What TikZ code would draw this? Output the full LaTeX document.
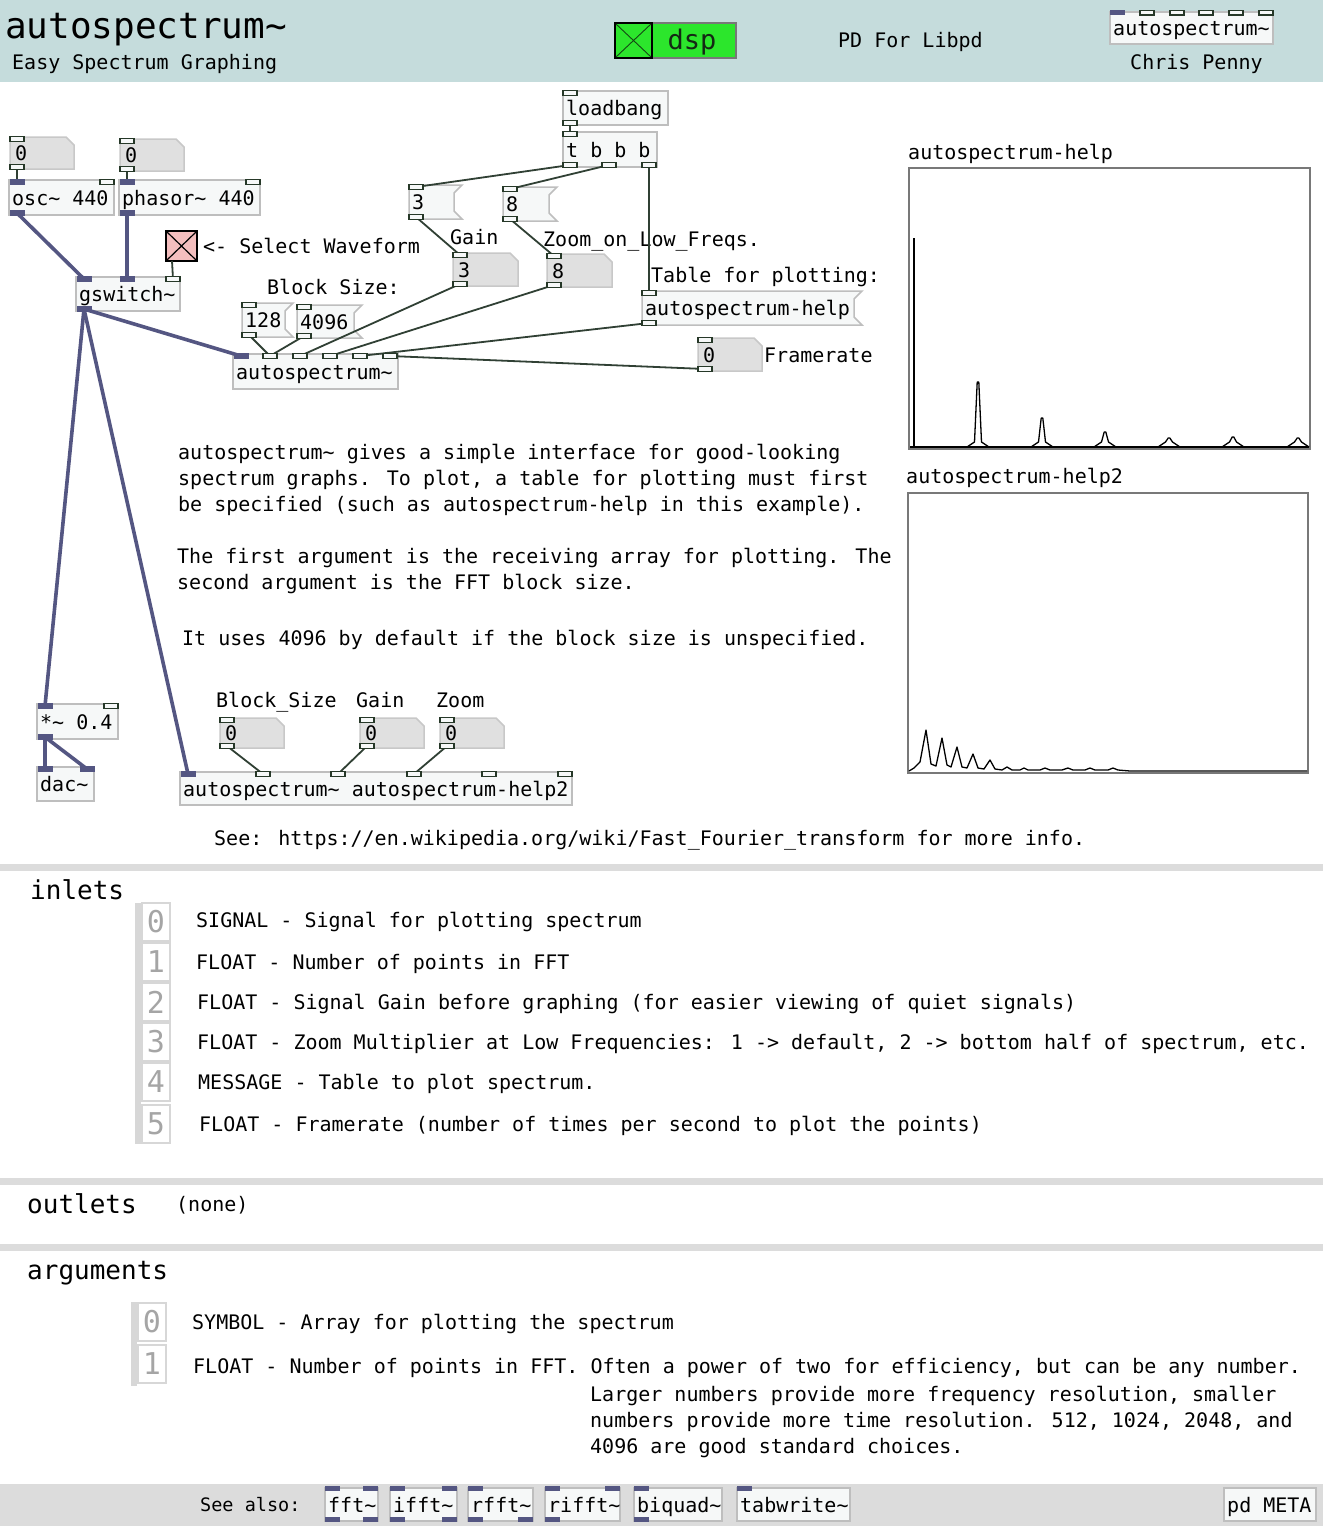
\documentclass[tikz,border=0pt]{standalone}
\usepackage{fontspec}
\newfontfamily\pdf{DejaVu Sans Mono}
\definecolor{hdr}{RGB}{197,220,220}
\definecolor{boxfill}{RGB}{246,248,248}
\definecolor{boxline}{RGB}{190,190,190}
\definecolor{numfill}{RGB}{224,224,224}
\definecolor{numline}{RGB}{200,200,200}
\definecolor{portline}{RGB}{38,56,40}
\definecolor{sigcol}{RGB}{84,86,130}
\definecolor{ctlwire}{RGB}{48,64,52}
\definecolor{sepgray}{RGB}{220,220,220}
\definecolor{pinkx}{RGB}{244,190,190}
\definecolor{dspgreen}{RGB}{44,230,44}
\definecolor{idxgray}{RGB}{165,165,165}
\definecolor{idxline}{RGB}{215,215,215}
\definecolor{graphline}{RGB}{120,120,120}
\newcommand\tld{\textasciitilde}
\tikzset{
 lbl/.style={inner sep=0pt, anchor=west, font={\pdf\fontsize{20}{24}\selectfont}, text height=17pt, text depth=2pt},
 sml/.style={inner sep=0pt, anchor=west, font={\pdf\fontsize{18.5}{22}\selectfont}, text height=16pt, text depth=2pt},
 head/.style={inner sep=0pt, anchor=west, font={\pdf\fontsize{26}{30}\selectfont}, text height=22pt, text depth=3pt},
 bigt/.style={inner sep=0pt, anchor=west, font={\pdf\fontsize{36}{40}\selectfont}, text height=27pt, text depth=7pt},
 idxf/.style={inner sep=0pt, anchor=center, text=idxgray, font={\pdf\fontsize{30}{34}\selectfont}},
 dspf/.style={inner sep=0pt, anchor=center, text={rgb,255:red,20;green,40;blue,20}, font={\pdf\fontsize{27}{30}\selectfont}},
 objst/.style={draw=boxline, fill=boxfill, line width=1.5pt},
 numst/.style={draw=numline, fill=numfill, line width=1.5pt},
 msgst/.style={draw=boxline, fill=boxfill, line width=1.5pt},
 ctlw/.style={draw=ctlwire, line width=1.8pt},
 sigw/.style={draw=sigcol, line width=3.6pt},
 cportst/.style={draw=portline, fill=boxfill, line width=1.3pt},
 specst/.style={draw=black, line width=1.3pt, line join=round},
 graphst/.style={draw=graphline, fill=white, line width=2pt},
}
\newcommand\objbox[6]{\draw[objst] (#2,#3) rectangle (#4,#5); \node[lbl] (#1) at ({#2+3},{(#3+#5)/2}) {#6};}
\newcommand\numbox[6]{\draw[numst] (#2,#3) -- ({#4-8},#3) -- (#4,{#3+8}) -- (#4,#5) -- (#2,#5) -- cycle; \node[lbl] (#1) at ({#2+5},{(#3+#5)/2}) {#6};}
\newcommand\msgbox[6]{\draw[msgst] (#2,#3) -- (#4,#3) -- ({#4-8},{#3+8}) -- ({#4-8},{#5-8}) -- (#4,#5) -- (#2,#5) -- cycle; \node[lbl] (#1) at ({#2+3},{(#3+#5)/2}) {#6};}
\newcommand\cport[1]{\draw[cportst] (#1) ++(-7,-2.5) rectangle ++(14,5);}
\newcommand\sport[1]{\fill[sigcol] (#1) ++(-7.5,-3) rectangle ++(15,6);}
\newcommand\sq[2]{\fill[sigcol] (#1,#2) rectangle ++(15,5);}
\newcommand\idxcell[4]{\draw[draw=idxline, fill=white, line width=1.5pt] (#2,{#3-19}) rectangle ({#2+28},{#3+19}); \node[idxf] (#1) at ({#2+14},#3) {#4};}
\newcommand\pk[3]{\draw[specst] ({#1-11},#3) -- ({#1-3.5},{#3-5}) -- ({#1-0.8},#2) -- ({#1+0.8},#2) -- ({#1+3.5},{#3-5}) -- ({#1+11},#3);}
\begin{document}
\begin{tikzpicture}[x=1pt,y=-1pt]
\useasboundingbox (0,0) rectangle (1323,1526);
\fill[white] (0,0) rectangle (1323,1526);
% ---------- header ----------
\fill[hdr] (0,0) rectangle (1323,82);
\node[bigt] (title) at (5,28) {autospectrum\tld};
\node[lbl] (subtitle) at (12,62) {Easy Spectrum Graphing};
\draw[draw=graphline, fill=dspgreen, line width=1.5pt] (652,23) rectangle (736,58);
\draw[draw=black, fill=dspgreen, line width=2pt] (615,23) rectangle (652,58);
\draw[draw={rgb,255:red,20;green,70;blue,20}, line width=0.9pt] (616,24) -- (651,57) (651,24) -- (616,57);
\node[dspf] (dsp) at (692,42) {dsp};
\node[lbl] (pdlib) at (838,40) {PD For Libpd};
\objbox{hobj}{1110}{12}{1273}{44}{autospectrum\tld}
\sq{1110}{10}
\foreach \px in {1140,1170,1199,1229,1259}{\draw[cportst] (\px,10.5) rectangle ++(14,4.5);}
\node[lbl] (author) at (1130,62) {Chris Penny};
% ---------- patch boxes ----------
\numbox{n1}{10}{137}{74}{169}{0}
\numbox{n2}{120}{139}{184}{171}{0}
\objbox{osc}{9}{180}{114}{215}{osc\tld{} 440}
\objbox{ph}{119}{180}{260}{215}{phasor\tld{} 440}
\draw[draw=black, fill=pinkx, line width=2pt] (166,231) rectangle (197,261);
\draw[black, line width=1.2pt] (167,232) -- (196,260) (196,232) -- (167,260);
\node[lbl] (selw) at (203,246) {<- Select Waveform};
\objbox{gsw}{76}{277}{180}{311}{gswitch\tld}
\node[lbl] (bsz) at (267,287) {Block Size:};
\msgbox{m128}{242}{303}{293}{337}{128}
\msgbox{m4096}{297}{305}{362}{338}{4096}
\objbox{as}{233}{354}{398}{389}{autospectrum\tld}
\objbox{lb}{563}{91}{668}{125}{loadbang}
\objbox{tb}{563}{132}{657}{167}{t b b b}
\msgbox{m3}{409}{185}{462}{219}{3}
\msgbox{m8}{503}{187}{557}{221}{8}
\node[lbl] (gainl) at (450,237) {Gain};
\node[lbl] (zooml) at (543,239) {Zoom\_on\_Low\_Freqs.};
\numbox{g3}{453}{253}{518}{286}{3}
\numbox{z8}{547}{254}{612}{287}{8}
\node[lbl] (tabl) at (651,275) {Table for plotting:};
\msgbox{hp}{642}{291}{862}{325}{autospectrum-help}
\numbox{fr}{698}{338}{762}{371}{0}
\node[lbl] (frl) at (764,355) {Framerate};
% description
\node[lbl] (d1) at (178,452) {autospectrum\tld{} gives a simple interface for good-looking};
\node[lbl] (d2) at (178,478) {spectrum graphs. To plot, a table for plotting must first};
\node[lbl] (d3) at (178,504) {be specified (such as autospectrum-help in this example).};
\node[lbl] (d4) at (177,556) {The first argument is the receiving array for plotting. The};
\node[lbl] (d5) at (177,582) {second argument is the FFT block size.};
\node[lbl] (d6) at (182,638) {It uses 4096 by default if the block size is unspecified.};
% lower patch
\objbox{mul}{37}{704}{118}{739}{*\tld{} 0.4}
\objbox{dac}{37}{767}{94}{801}{dac\tld}
\node[lbl] (bsl) at (216,700) {Block\_Size};
\node[lbl] (gnl) at (356,700) {Gain};
\node[lbl] (zml) at (436,700) {Zoom};
\numbox{bs}{220}{718}{284}{748}{0}
\numbox{gn}{360}{718}{424}{748}{0}
\numbox{zm}{440}{718}{504}{748}{0}
\objbox{as2}{180}{772}{572}{805}{autospectrum\tld{} autospectrum-help2}
\node[lbl] (see) at (214,838) {See: https://en.wikipedia.org/wiki/Fast\_Fourier\_transform for more info.};
% ---------- graphs ----------
\node[lbl] (g1l) at (908,152) {autospectrum-help};
\draw[graphst] (909,168) rectangle (1310,449);
\draw[specst] (910,447) -- (1309,447);
\draw[black, line width=2pt] (913.5,447) -- (913.5,238);
\pk{978}{382}{447}
\pk{1042}{418}{447}
\pk{1105}{432}{447}
\pk{1169}{438}{447}
\pk{1233}{437}{447}
\pk{1298}{438}{447}
\node[lbl] (g2l) at (906,476) {autospectrum-help2};
\draw[graphst] (908,493) rectangle (1308,773);
\draw[specst] (909,771) -- (914,768) -- (920,762) -- (926,730) -- (931,764) -- (936,766) -- (942,738) -- (947,765) -- (951,767) -- (957,747) -- (962,767) -- (967,768) -- (973,754) -- (978,768) -- (984,769) -- (990,760) -- (995,769) -- (1002,770) -- (1007,767) -- (1012,770) -- (1020,770) -- (1024,768) -- (1028,770) -- (1040,770) -- (1045,768) -- (1050,770) -- (1062,770) -- (1068,768) -- (1073,770) -- (1085,770) -- (1090,768) -- (1095,770) -- (1108,770) -- (1113,768) -- (1118,770) -- (1130,771) -- (1307,771);
% ---------- port coordinates ----------
\coordinate (n1i) at (17,139); \coordinate (n1o) at (17,167);
\coordinate (n2i) at (127,141); \coordinate (n2o) at (127,169);
\coordinate (osci0) at (17,182); \coordinate (osci1) at (107,182); \coordinate (osco) at (17,213);
\coordinate (phi0) at (127,182); \coordinate (phi1) at (253,182); \coordinate (pho) at (127,213);
\coordinate (togo) at (172,261);
\coordinate (gswi0) at (84,279); \coordinate (gswi1) at (127,279); \coordinate (gswi2) at (173,279); \coordinate (gswo) at (84,309);
\coordinate (lbi) at (570,93); \coordinate (lbo) at (570,123);
\coordinate (ti) at (570,134); \coordinate (to0) at (570,165); \coordinate (to1) at (609,165); \coordinate (to2) at (649,165);
\coordinate (m3i) at (416,187); \coordinate (m3o) at (416,217);
\coordinate (m8i) at (510,189); \coordinate (m8o) at (510,219);
\coordinate (g3i) at (460,255); \coordinate (g3o) at (460,284);
\coordinate (z8i) at (554,256); \coordinate (z8o) at (554,285);
\coordinate (hpi) at (649,293); \coordinate (hpo) at (649,323);
\coordinate (fri) at (705,340); \coordinate (fro) at (705,369);
\coordinate (m128i) at (249,305); \coordinate (m128o) at (249,335);
\coordinate (m4096i) at (304,307); \coordinate (m4096o) at (304,336);
\coordinate (asi0) at (241,356); \coordinate (asi1) at (270,356); \coordinate (asi2) at (300,356);
\coordinate (asi3) at (330,356); \coordinate (asi4) at (360,356); \coordinate (asi5) at (390,356);
\coordinate (muli0) at (45,706); \coordinate (muli1) at (111,706); \coordinate (mulo) at (45,737);
\coordinate (daci0) at (45,769); \coordinate (daci1) at (87,769);
\coordinate (bsi) at (227,720); \coordinate (bso) at (227,746);
\coordinate (gni) at (367,720); \coordinate (gno) at (367,746);
\coordinate (zmi) at (447,720); \coordinate (zmo) at (447,746);
\coordinate (as2i0) at (188,774); \coordinate (as2i1) at (263,774); \coordinate (as2i2) at (338,774);
\coordinate (as2i3) at (414,774); \coordinate (as2i4) at (489,774); \coordinate (as2i5) at (565,774);
% ---------- wires ----------
\draw[ctlw] (n1o) -- (osci0);
\draw[ctlw] (n2o) -- (phi0);
\draw[sigw] (osco) -- (gswi0);
\draw[sigw] (pho) -- (gswi1);
\draw[ctlw] (togo) -- (gswi2);
\draw[sigw] (gswo) -- (asi0);
\draw[sigw] (gswo) -- (muli0);
\draw[sigw] (gswo) -- (as2i0);
\draw[sigw] (mulo) -- (daci0);
\draw[sigw] (mulo) -- (daci1);
\draw[ctlw] (lbo) -- (ti);
\draw[ctlw] (to0) -- (m3i);
\draw[ctlw] (to1) -- (m8i);
\draw[ctlw] (to2) -- (hpi);
\draw[ctlw] (m3o) -- (g3i);
\draw[ctlw] (m8o) -- (z8i);
\draw[ctlw] (m128o) -- (asi1);
\draw[ctlw] (m4096o) -- (asi1);
\draw[ctlw] (g3o) -- (asi2);
\draw[ctlw] (z8o) -- (asi3);
\draw[ctlw] (hpo) -- (asi4);
\draw[ctlw] (fro) -- (asi5);
\draw[ctlw] (bso) -- (as2i1);
\draw[ctlw] (gno) -- (as2i2);
\draw[ctlw] (zmo) -- (as2i3);
% ---------- ports ----------
\foreach \p in {n1i,n1o,n2i,n2o,osci1,phi1,gswi2,lbi,lbo,ti,to0,to1,to2,m3i,m3o,m8i,m8o,g3i,g3o,z8i,z8o,hpi,hpo,fri,fro,m128i,m128o,m4096i,m4096o,asi1,asi2,asi3,asi4,asi5,muli1,bsi,bso,gni,gno,zmi,zmo,as2i1,as2i2,as2i3,as2i4,as2i5}{\cport{\p}}
\foreach \p in {osci0,osco,phi0,pho,gswi0,gswi1,gswo,asi0,muli0,mulo,daci0,daci1,as2i0}{\sport{\p}}
% ---------- reference sections ----------
\fill[sepgray] (0,864) rectangle (1323,871);
\node[head] (inh) at (30,890) {inlets};
\fill[idxline] (135,903) rectangle (141,1144);
\idxcell{i0}{142}{922}{0}
\idxcell{i1}{142}{962}{1}
\idxcell{i2}{142}{1002}{2}
\idxcell{i3}{142}{1042}{3}
\idxcell{i4}{142}{1082}{4}
\idxcell{i5}{142}{1124}{5}
\node[lbl] (it0) at (196,920) {SIGNAL - Signal for plotting spectrum};
\node[lbl] (it1) at (196,962) {FLOAT - Number of points in FFT};
\node[lbl] (it2) at (197,1002) {FLOAT - Signal Gain before graphing (for easier viewing of quiet signals)};
\node[lbl] (it3) at (197,1042) {FLOAT - Zoom Multiplier at Low Frequencies: 1 -> default, 2 -> bottom half of spectrum, etc.};
\node[lbl] (it4) at (198,1082) {MESSAGE - Table to plot spectrum.};
\node[lbl] (it5) at (199,1124) {FLOAT - Framerate (number of times per second to plot the points)};
\fill[sepgray] (0,1178) rectangle (1323,1185);
\node[head] (outh) at (27,1204) {outlets};
\node[lbl] (outn) at (176,1204) {(none)};
\fill[sepgray] (0,1244) rectangle (1323,1251);
\node[head] (argh) at (27,1270) {arguments};
\fill[idxline] (131,1302) rectangle (137,1386);
\idxcell{a0}{138}{1322}{0}
\idxcell{a1}{138}{1364}{1}
\node[lbl] (at0) at (192,1322) {SYMBOL - Array for plotting the spectrum};
\node[lbl] (at1) at (193,1366) {FLOAT - Number of points in FFT. Often a power of two for efficiency, but can be any number.};
\node[lbl] (at2) at (590,1394) {Larger numbers provide more frequency resolution, smaller};
\node[lbl] (at3) at (590,1420) {numbers provide more time resolution. 512, 1024, 2048, and};
\node[lbl] (at4) at (590,1446) {4096 are good standard choices.};
% ---------- see also bar ----------
\fill[sepgray] (0,1484) rectangle (1323,1526);
\node[sml] (seea) at (200,1504) {See also:};
\objbox{fft}{325}{1488}{378}{1521}{fft\tld}
\objbox{ifft}{390}{1488}{457}{1521}{ifft\tld}
\objbox{rfft}{468}{1488}{533}{1521}{rfft\tld}
\objbox{rifft}{545}{1488}{620}{1521}{rifft\tld}
\objbox{biq}{634}{1488}{722}{1521}{biquad\tld}
\objbox{tabw}{737}{1488}{850}{1521}{tabwrite\tld}
\objbox{meta}{1224}{1488}{1316}{1521}{pd META}
\sq{325}{1486}\sq{363}{1486}\sq{325}{1517}\sq{363}{1517}
\sq{390}{1486}\sq{442}{1486}\sq{390}{1517}\sq{442}{1517}
\sq{468}{1486}\sq{468}{1517}\sq{518}{1517}
\sq{545}{1486}\sq{605}{1486}\sq{545}{1517}
\sq{634}{1486}\sq{634}{1517}
\sq{737}{1486}
\end{tikzpicture}
\end{document}
